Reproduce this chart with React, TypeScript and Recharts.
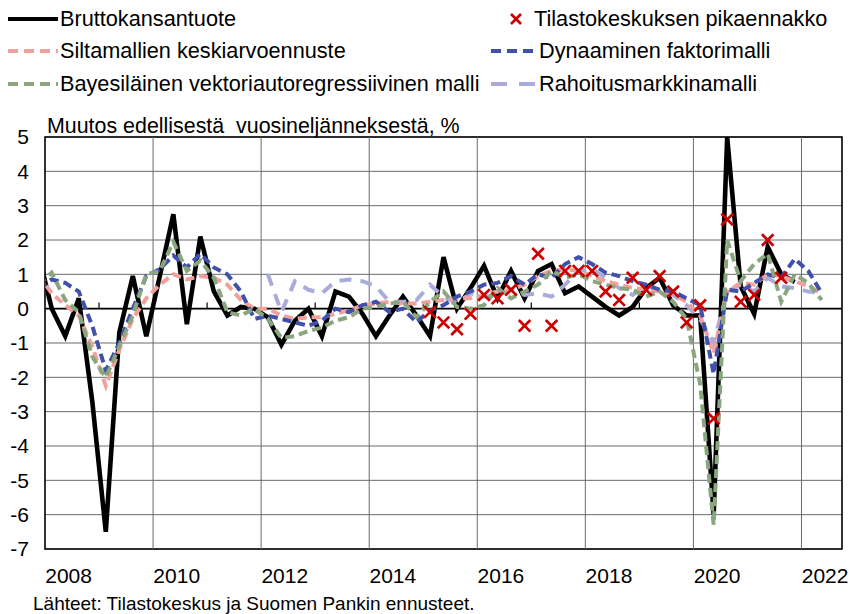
import React from "react";
import {
  ComposedChart,
  Line,
  XAxis,
  YAxis,
  CartesianGrid,
  ReferenceLine,
  ReferenceArea,
} from "recharts";

// quarters, first one (2007Q4) lies left of the axis and is clipped
const quarters = [
  "2007Q4",
  "2008Q1", "2008Q2", "2008Q3", "2008Q4",
  "2009Q1", "2009Q2", "2009Q3", "2009Q4",
  "2010Q1", "2010Q2", "2010Q3", "2010Q4",
  "2011Q1", "2011Q2", "2011Q3", "2011Q4",
  "2012Q1", "2012Q2", "2012Q3", "2012Q4",
  "2013Q1", "2013Q2", "2013Q3", "2013Q4",
  "2014Q1", "2014Q2", "2014Q3", "2014Q4",
  "2015Q1", "2015Q2", "2015Q3", "2015Q4",
  "2016Q1", "2016Q2", "2016Q3", "2016Q4",
  "2017Q1", "2017Q2", "2017Q3", "2017Q4",
  "2018Q1", "2018Q2", "2018Q3", "2018Q4",
  "2019Q1", "2019Q2", "2019Q3", "2019Q4",
  "2020Q1", "2020Q2", "2020Q3", "2020Q4",
  "2021Q1", "2021Q2", "2021Q3", "2021Q4",
  "2022Q1", "2022Q2",
];

const gdp = [
  1.6,
  0.0, -0.8, 0.3, -2.7,
  -6.5, -0.7, 0.95, -0.8,
  0.95, 2.75, -0.45, 2.1,
  0.5, -0.2, 0.05, 0.0,
  -0.25, -1.05, -0.35, 0.0,
  -0.8, 0.5, 0.35, -0.15,
  -0.8, -0.2, 0.35, -0.2,
  -0.8, 1.5, 0.0, 0.6,
  1.25, 0.3, 1.1, 0.3,
  1.1, 1.3, 0.45, 0.65,
  0.35, 0.05, -0.2, 0.05,
  0.6, 0.9, 0.1, -0.2,
  -0.2, -6.0, 5.0, 0.65,
  -0.15, 1.8, 1.0, 0.78,
  null, null,
];

const flash = [
  null,
  null, null, null, null,
  null, null, null, null,
  null, null, null, null,
  null, null, null, null,
  null, null, null, null,
  null, null, null, null,
  null, null, null, null,
  -0.1, -0.4, -0.6, -0.15,
  0.4, 0.3, 0.55, -0.5,
  1.6, -0.5, 1.1, 1.1,
  1.1, 0.5, 0.25, 0.9,
  0.55, 0.95, 0.5, -0.4,
  0.1, -3.2, 2.6, 0.2,
  0.4, 2.0, 0.9, null,
  null, null,
];

const bridge = [
  1.0,
  0.45, 0.1, -0.2, -1.1,
  -2.25, -1.2, -0.3, 0.3,
  0.7, 1.0, 0.85, 0.95,
  0.9, 0.7, 0.25, 0.0,
  0.0, -0.2, -0.3, -0.25,
  -0.25, -0.15, -0.05, 0.1,
  0.15, 0.2, 0.15, 0.15,
  0.2, 0.25, 0.3, 0.3,
  0.4, 0.5, 0.55, 0.7,
  0.95, 1.1, 1.15, 1.1,
  0.95, 0.8, 0.7, 0.6,
  0.55, 0.5, 0.4, 0.2,
  -0.2, -1.3, 0.5, 0.75,
  0.7, 1.0, 0.95, 0.8,
  0.65, 0.45,
];

const dfm = [
  0.6,
  0.85, 0.75, 0.5, -0.5,
  -1.8, -1.0, 0.0, 0.95,
  1.15, 1.55, 1.2, 1.6,
  1.2, 1.0, 0.5, -0.3,
  -0.2, -0.3, -0.4, -0.5,
  -0.35, 0.0, -0.1, 0.1,
  0.2, -0.1, 0.0, -0.4,
  -0.05, 0.1, 0.35, 0.5,
  0.7, 0.75, 0.95, 0.7,
  1.0, 0.9, 1.3, 1.5,
  1.3, 1.05, 0.95, 0.8,
  0.7, 0.55, 0.5, 0.3,
  0.1, -1.9, 0.55, 0.5,
  0.75, 1.0, 0.9, 1.45,
  1.1, 0.45,
];

const bvar = [
  0.7,
  1.05, 0.25, -0.1, -1.4,
  -2.0, -1.1, -0.2, 1.0,
  1.1, 1.95, 1.1, 1.4,
  0.9, -0.1, -0.2, 0.0,
  -0.3, -0.85, -0.8, -0.65,
  -0.55, -0.35, -0.25, 0.0,
  0.05, 0.15, 0.2, -0.25,
  0.2, 0.5, 0.05, 0.0,
  0.1, 0.6, 0.3, 0.5,
  0.7, 1.1, 0.9, 1.0,
  0.8, 0.7, 0.6, 0.55,
  0.35, 0.5, 0.2, -0.3,
  -2.2, -6.3, 2.0, 0.8,
  1.3, 1.6, 0.2, 1.0,
  0.75, 0.25,
];

const finance = [
  null,
  null, null, null, null,
  null, null, null, null,
  null, null, null, null,
  null, null, null, null,
  1.0, -0.1, 0.8, 0.55,
  0.45, 0.8, 0.85, 0.8,
  0.65, 0.2, 0.2, 0.25,
  0.7, 0.35, 0.15, 0.45,
  0.35, 0.4, 0.55, 0.4,
  0.45, 0.35, 0.7, 1.1,
  1.15, 0.9, 0.6, 0.4,
  0.65, 0.55, 0.4, 0.1,
  -0.3, -1.0, 0.5, 0.7,
  0.5, 0.9, 0.65, 0.6,
  0.5, 0.45,
];

const yearLabels = ["2008", "2010", "2012", "2014", "2016", "2018", "2020", "2022"];
const yTicks = [-7, -6, -5, -4, -3, -2, -1, 0, 1, 2, 3, 4, 5];

// index 0 = 2008Q1
const data = quarters.map((name, i) => ({
  name,
  q: i - 1,
  gdp: gdp[i],
  flash: flash[i],
  bridge: bridge[i],
  dfm: dfm[i],
  bvar: bvar[i],
  finance: finance[i],
}));

const labelPos = yearLabels.map((_, i) => i * 8 + 1.25);
const gridPos = [7.5, 15.5, 23.5, 31.5, 39.5, 47.5, 55.5];
const tickPos = [3.5, 11.5, 19.5, 27.5, 35.5, 43.5, 51.5];

const FONT = '"Liberation Sans", Arial, sans-serif';
const RED = "#cc0000";
const PINK = "#f2a09c";
const BLUE = "#4150aa";
const GREEN = "#8aa67e";
const LAVENDER = "#a9acda";

function Cross(props: any) {
  const { cx, cy, value } = props;
  if (value == null || cy == null || Number.isNaN(cy)) return <g />;
  const s = 5.8;
  return (
    <g>
      <line x1={cx - s} y1={cy - s} x2={cx + s} y2={cy + s} stroke={RED} strokeWidth={2.7} />
      <line x1={cx - s} y1={cy + s} x2={cx + s} y2={cy - s} stroke={RED} strokeWidth={2.7} />
    </g>
  );
}

function LegendItem({
  x,
  y,
  label,
  sample,
}: {
  x: number;
  y: number;
  label: string;
  sample: React.ReactNode;
}) {
  return (
    <div style={{ position: "absolute", left: x, top: y - 12, height: 24, display: "flex", alignItems: "center" }}>
      {sample}
      <span style={{ fontSize: 21.7, lineHeight: "24px", whiteSpace: "nowrap" }}>{label}</span>
    </div>
  );
}

function LineSample({ color, dash, width = 50 }: { color: string; dash?: string; width?: number }) {
  return (
    <svg width={width} height={10} style={{ display: "block", marginRight: 2 }}>
      <line x1={0} y1={5} x2={width} y2={5} stroke={color} strokeWidth={4} strokeDasharray={dash} />
    </svg>
  );
}

export default function App() {
  return (
    <div
      style={{
        position: "absolute",
        left: 0,
        top: 0,
        width: 851,
        height: 614,
        background: "#fff",
        fontFamily: FONT,
        color: "#000",
        overflow: "hidden",
      }}
    >
      <LegendItem x={8} y={19} label="Bruttokansantuote" sample={<LineSample color="#000" />} />
      <LegendItem x={8} y={51} label="Siltamallien keskiarvoennuste" sample={<LineSample color={PINK} dash="10 6" />} />
      <LegendItem
        x={8}
        y={84}
        label="Bayesiläinen vektoriautoregressiivinen malli"
        sample={<LineSample color={GREEN} dash="10 6" />}
      />
      <LegendItem
        x={492}
        y={19}
        label="Tilastokeskuksen pikaennakko"
        sample={
          <svg width={42} height={14} style={{ display: "block", marginRight: 0 }}>
            <line x1={19} y1={2} x2={29} y2={12} stroke={RED} strokeWidth={2.7} />
            <line x1={19} y1={12} x2={29} y2={2} stroke={RED} strokeWidth={2.7} />
          </svg>
        }
      />
      <LegendItem x={491} y={51} label="Dynaaminen faktorimalli" sample={<LineSample color={BLUE} dash="10 6" width={46} />} />
      <LegendItem x={491} y={84} label="Rahoitusmarkkinamalli" sample={<LineSample color={LAVENDER} dash="16 12" width={46} />} />

      <div
        style={{
          position: "absolute",
          left: 47,
          top: 114,
          fontSize: 21.4,
          lineHeight: "24px",
          whiteSpace: "pre",
        }}
      >
        {"Muutos edellisestä  vuosineljänneksestä, %"}
      </div>

      <div style={{ position: "absolute", left: 33, top: 593, fontSize: 19, lineHeight: "22px", whiteSpace: "nowrap" }}>
        Lähteet: Tilastokeskus ja Suomen Pankin ennusteet.
      </div>

      <div style={{ position: "absolute", left: 0, top: 0 }}>
        <ComposedChart width={851} height={614} data={data} margin={{ top: 137, right: 9, bottom: 35, left: 0 }}>
          <CartesianGrid vertical={false} stroke="#6b6b6b" strokeWidth={1} />
          <XAxis
            type="number"
            dataKey="q"
            domain={[-0.5, 58.5]}
            allowDataOverflow
            ticks={labelPos}
            interval={0}
            tickFormatter={(v: number) => yearLabels[Math.round((v - 1.25) / 8)]}
            axisLine={false}
            tickLine={false}
            tickSize={0}
            tickMargin={19}
            height={30}
            tick={{ fontSize: 21, fill: "#000", fontFamily: FONT }}
          />
          <YAxis
            type="number"
            domain={[-7, 5]}
            allowDataOverflow
            ticks={yTicks}
            interval={0}
            width={45}
            axisLine={false}
            tickLine={false}
            tickSize={0}
            tickMargin={16}
            tick={{ fontSize: 21, fill: "#000", fontFamily: FONT }}
          />
          {gridPos.map((x) => (
            <ReferenceLine key={"g" + x} x={x} stroke="#6b6b6b" strokeWidth={1} />
          ))}
          <ReferenceLine y={0} stroke="#000" strokeWidth={1.6} />
          {tickPos.map((x) => (
            <ReferenceLine
              key={"t" + x}
              segment={[
                { x, y: 0 },
                { x, y: 0.18 },
              ]}
              stroke="#000"
              strokeWidth={1.2}
            />
          ))}
          <ReferenceArea x1={-0.5} x2={58.5} y1={-7} y2={5} fill="none" stroke="#000" strokeWidth={1.6} />

          <Line dataKey="gdp" stroke="#000" strokeWidth={4.6} dot={false} isAnimationActive={false} />
          <Line
            dataKey="finance"
            stroke={LAVENDER}
            strokeWidth={4}
            strokeDasharray="12 9"
            dot={false}
            isAnimationActive={false}
          />
          <Line
            dataKey="bridge"
            stroke={PINK}
            strokeWidth={4}
            strokeDasharray="9 5"
            dot={false}
            isAnimationActive={false}
          />
          <Line
            dataKey="dfm"
            stroke={BLUE}
            strokeWidth={4}
            strokeDasharray="9 5"
            dot={false}
            isAnimationActive={false}
          />
          <Line
            dataKey="bvar"
            stroke={GREEN}
            strokeWidth={4}
            strokeDasharray="9 5"
            dot={false}
            isAnimationActive={false}
          />
          <Line
            dataKey="flash"
            stroke="none"
            strokeWidth={0}
            dot={(p: any) => <Cross key={p.key ?? "c" + p.index} {...p} />}
            activeDot={false}
            isAnimationActive={false}
          />
        </ComposedChart>
      </div>
    </div>
  );
}
